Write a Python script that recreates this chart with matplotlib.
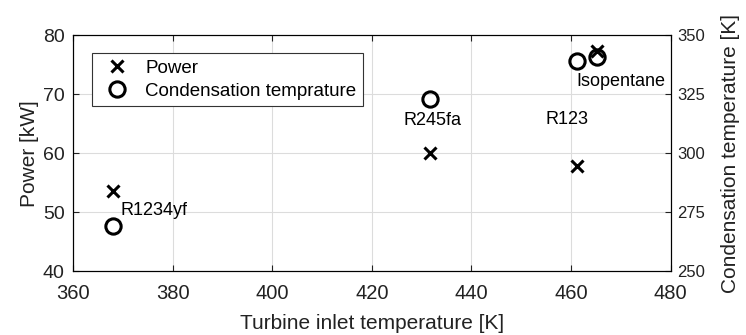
import matplotlib.pyplot as plt

plt.rcParams['font.family'] = ['Liberation Sans', 'DejaVu Sans']

# turbine inlet temperature [K] for each fluid
fluids = ['R1234yf', 'R245fa', 'R123', 'Isopentane']
t_in = [368.0, 431.6, 461.2, 465.3]
power = [53.6, 60.0, 57.8, 77.4]          # kW
t_cond = [269.2, 322.9, 339.2, 340.8]     # K

fig, ax = plt.subplots(figsize=(7.46, 3.35), dpi=100)
fig.subplots_adjust(left=0.098, right=0.899, top=0.895, bottom=0.19)
ax2 = ax.twinx()

h1, = ax.plot(t_in, power, 'x', color='black', ms=9, mew=2.2, label='Power')
h2, = ax2.plot(t_in, t_cond, 'o', color='black', ms=11, mfc='none', mew=2.2,
               label='Condensation temprature')

ax.set_xlim(360, 480)
ax.set_ylim(40, 80)
ax2.set_ylim(250, 350)
ax.set_xticks(range(360, 481, 20))
ax.set_yticks(range(40, 81, 10))
ax2.set_yticks(range(250, 351, 25))
ax.grid(True, color='#dcdcdc', lw=0.8)

ax.tick_params(axis='x', direction='in', top=True, labelsize=14.5, length=4, pad=9,
               colors='#222222')
ax.tick_params(axis='y', direction='in', right=False, labelsize=14, length=4, pad=6,
               colors='#222222')
ax2.tick_params(direction='in', labelsize=12, length=4, pad=5, colors='#222222')

ax.set_xlabel('Turbine inlet temperature [K]', fontsize=15, labelpad=8, color='#222222')
ax.set_ylabel('Power [kW]', fontsize=15, labelpad=3, color='#222222')
ax2.set_ylabel('Condensation temperature [K]', fontsize=15, labelpad=11, color='#222222')

# fluid labels
ax.text(369.6, 50.3, 'R1234yf', fontsize=13, va='center')
ax.text(432.2, 65.6, 'R245fa', fontsize=13, ha='center', va='center')
ax.text(459.2, 65.8, 'R123', fontsize=13, ha='center', va='center')
ax.text(470.0, 72.2, 'Isopentane', fontsize=13, ha='center', va='center')

leg = ax.legend([h1, h2], ['Power', 'Condensation temprature'], loc='upper left',
                bbox_to_anchor=(0.031, 0.924), fontsize=13.5, fancybox=False,
                edgecolor='#333333', framealpha=1, borderpad=0.35,
                handletextpad=0.5, borderaxespad=0, labelspacing=0.3)
leg.get_frame().set_linewidth(0.8)

for a in (ax, ax2):
    for s in a.spines.values():
        s.set_linewidth(0.8)

fig.savefig('out.png', dpi=100)
